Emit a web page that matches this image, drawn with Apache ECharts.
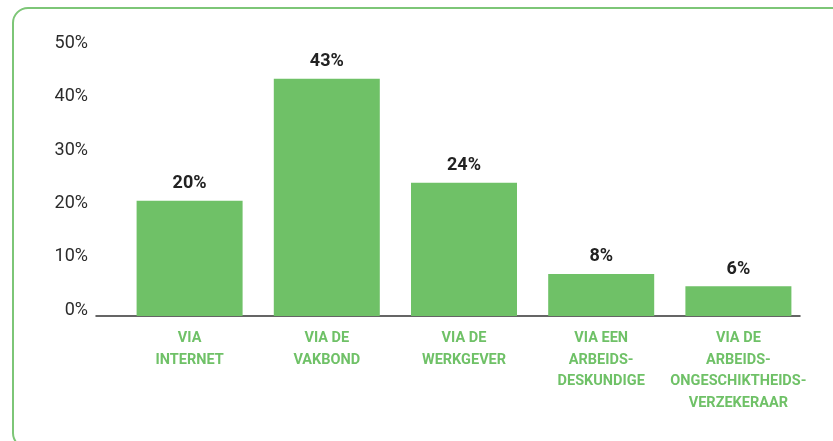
<!DOCTYPE html>
<html>
<head>
<meta charset="utf-8">
<script src="https://cdn.jsdelivr.net/npm/echarts@6/dist/echarts.min.js"></script>
<style>
  html, body { margin: 0; padding: 0; background: #fff; overflow: hidden; }
  #frame {
    position: absolute; left: 12px; top: 7px;
    width: 860px; height: 438px;
    border: 2px solid #7dc677; border-radius: 16px;
  }
  #chart { position: absolute; left: 0; top: 0; width: 833px; height: 441px; }
</style>
</head>
<body>
<div id="frame"></div>
<div id="chart"></div>
<script>
// categorieen (x-as)
const categories = [
  'VIA\nINTERNET',
  'VIA DE\nVAKBOND',
  'VIA DE\nWERKGEVER',
  'VIA EEN\nARBEIDS-\nDESKUNDIGE',
  'VIA DE\nARBEIDS-\nONGESCHIKTHEIDS-\nVERZEKERAAR'
]
// hoogte van de balken
const values = [21.6, 44.5, 25.0, 7.9, 5.6]
// tekst boven de balken
const valueLabels = ['20%', '43%', '24%', '8%', '6%']
// y-as
const yTicks = [0, 10, 20, 30, 40, 50]

const FONT = "Roboto, 'Noto Sans', sans-serif"
const GREEN = '#6fc167'

const myChart = echarts.init(document.getElementById('chart'))
const option = {
  animation: false,
  textStyle: { fontFamily: FONT },
  grid: [
    { left: 121, right: 26, top: 49.5, bottom: 125 },
    // alleen voor de lange x-aslijn
    { left: 96, right: 33, top: 49.5, bottom: 125 }
  ],
  xAxis: [
    {
      type: 'category',
      data: categories,
      gridIndex: 0,
      axisLine: { show: false },
      axisTick: { show: false },
      axisLabel: {
        interval: 0,
        margin: 12,
        color: GREEN,
        fontFamily: FONT,
        fontWeight: 'bold',
        fontSize: 14.5,
        lineHeight: 21.5,
        align: 'center'
      }
    },
    {
      type: 'value',
      gridIndex: 1,
      min: 0,
      max: 1,
      axisLine: { show: true, lineStyle: { color: '#333', width: 1.5 } },
      axisTick: { show: false },
      axisLabel: { show: false },
      splitLine: { show: false }
    }
  ],
  yAxis: [
    {
      type: 'value',
      gridIndex: 0,
      min: yTicks[0],
      max: yTicks[yTicks.length - 1],
      interval: 10,
      axisLine: { show: false },
      axisTick: { show: false },
      splitLine: { show: false },
      axisLabel: {
        margin: 33,
        color: '#2b2b2b',
        fontFamily: FONT,
        fontSize: 18,
        verticalAlign: 'bottom',
        lineHeight: 12,
        formatter: v => v + '%'
      }
    },
    {
      type: 'value',
      gridIndex: 1,
      min: 0,
      max: 1,
      show: false
    }
  ],
  series: [
    {
      type: 'bar',
      xAxisIndex: 0,
      yAxisIndex: 0,
      data: values,
      barWidth: 106,
      itemStyle: { color: GREEN },
      label: {
        show: true,
        position: 'top',
        distance: 8,
        color: '#222',
        fontFamily: FONT,
        fontWeight: 'bold',
        fontSize: 18,
        formatter: p => valueLabels[p.dataIndex]
      }
    }
  ]
}
myChart.setOption(option)
</script>
</body>
</html>
